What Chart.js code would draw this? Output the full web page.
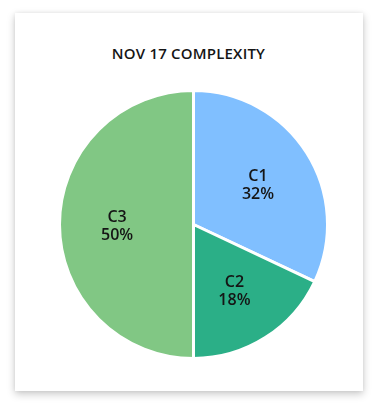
<!DOCTYPE html>
<html>
<head>
<meta charset="utf-8">
<script src="https://cdn.jsdelivr.net/npm/chart.js@4"></script>
<style>
  html, body { margin: 0; padding: 0; background: #fff; }
  body { width: 379px; height: 408px; position: relative; overflow: hidden; font-family: "Open Sans", Lato, sans-serif; }
  .card {
    position: absolute; left: 15px; top: 13px; width: 348px; height: 378px;
    background: #fff;
    box-shadow: 0 3px 8px rgba(0,0,0,0.22), 0 0 4px rgba(0,0,0,0.06);
  }
  .title {
    position: absolute; left: 0; top: 42px; width: 377px; text-align: center;
    font-size: 15px; line-height: 22px; font-weight: 600; color: #151515; letter-spacing: 0.2px;
  }
  .chart-box { position: absolute; left: 54px; top: 85px; width: 279px; height: 279px; }
</style>
</head>
<body>
<div class="card"></div>
<div class="title">NOV 17 COMPLEXITY</div>
<div class="chart-box"><canvas id="complexityChart"></canvas></div>
<script>
const categories = ['C1', 'C2', 'C3'];
const shares = [32, 18, 50];
const sliceColors = ['#80bfff', '#2baf87', '#81c784'];

// draws "C1 / 32%" inside each slice
const sliceLabels = {
    id: 'sliceLabels',
    afterDatasetsDraw(chart) {
        const c = chart.ctx;
        const meta = chart.getDatasetMeta(0);
        c.save();
        c.fillStyle = '#151515';
        c.textAlign = 'center';
        c.textBaseline = 'middle';
        c.font = '600 16px "Open Sans", Lato, sans-serif';
        meta.data.forEach((arc, i) => {
            const mid = (arc.startAngle + arc.endAngle) / 2;
            const r = arc.outerRadius * 0.57;
            const x = arc.x + Math.cos(mid) * r;
            const y = arc.y + Math.sin(mid) * r + 2;
            c.fillText(categories[i], x, y - 9);
            c.fillText(shares[i] + '%', x, y + 9);
        });
        c.restore();
    }
};

new Chart(document.getElementById('complexityChart'), {
    type: 'pie',
    data: {
        labels: categories,
        datasets: [{
            data: shares,
            backgroundColor: sliceColors,
            borderColor: '#ffffff',
            borderWidth: 3
        }]
    },
    options: {
        responsive: true,
        maintainAspectRatio: false,
        animation: false,
        layout: { padding: 4 },
        plugins: {
            legend: { display: false },
            tooltip: { enabled: false }
        }
    },
    plugins: [sliceLabels]
});
</script>
</body>
</html>
